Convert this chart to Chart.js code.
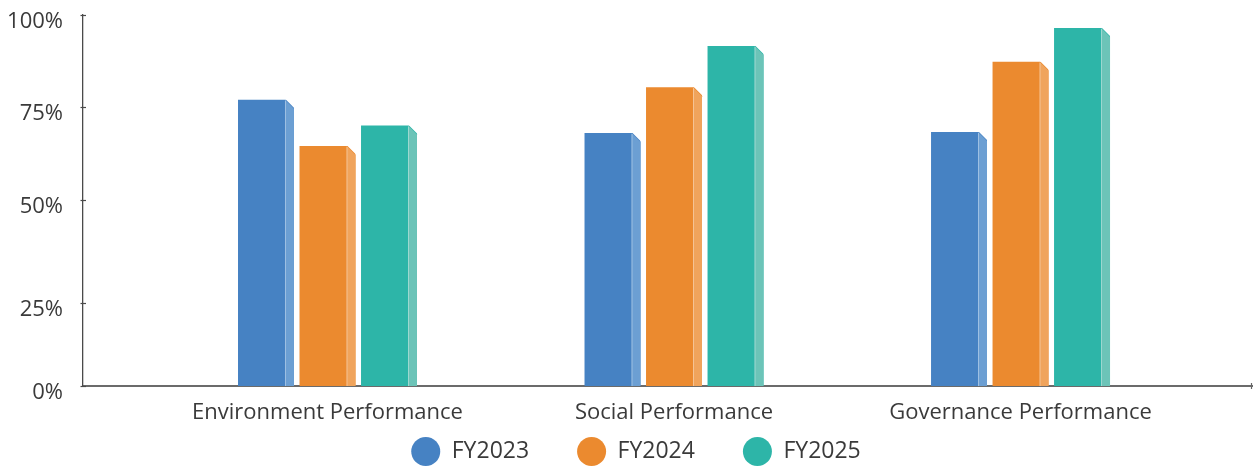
<!DOCTYPE html>
<html>
<head>
<meta charset="utf-8">
<title>ESG Performance</title>
<script src="https://cdn.jsdelivr.net/npm/chart.js@4"></script>
<style>
  html, body { margin: 0; padding: 0; background: #ffffff; }
  canvas { display: block; }
</style>
</head>
<body>
<canvas id="chart" width="1253" height="468"></canvas>
<script>
// ---- data ----
const categories = ['Environment Performance', 'Social Performance', 'Governance Performance'];
const seriesNames = ['FY2023', 'FY2024', 'FY2025'];
const fy2023 = [77, 68, 68.3];
const fy2024 = [64.5, 80.4, 87.3];
const fy2025 = [70, 91.6, 96.5];
const yTickValues = [0, 25, 50, 75, 100];
const yTickLabels = ['0%', '25%', '50%', '75%', '100%'];

// ---- styling ----
const FONT = 'Open Sans';
const FONT_SIZE = 22;
const LEGEND_FONT_SIZE = 23;
const TEXT = '#3a3a3a';
const frontColors = ['#4682C3', '#EB8A2F', '#2DB5A8'];
const sideColors = ['#6C9FD3', '#F0A45C', '#6CC4B8'];

// Linear scale whose tick spacing follows a list of [value, fraction] stops.
class StopScale extends Chart.LinearScale {
  static id = 'stops';
  static defaults = Chart.LinearScale.defaults;
  _toFraction(v) {
    const s = this.options.stops;
    if (v <= s[0][0]) return s[0][1];
    for (let i = 1; i < s.length; i++) {
      if (v <= s[i][0]) {
        const t = (v - s[i - 1][0]) / (s[i][0] - s[i - 1][0]);
        return s[i - 1][1] + t * (s[i][1] - s[i - 1][1]);
      }
    }
    return s[s.length - 1][1];
  }
  _fromFraction(f) {
    const s = this.options.stops;
    for (let i = 1; i < s.length; i++) {
      if (f <= s[i][1]) {
        const t = (f - s[i - 1][1]) / (s[i][1] - s[i - 1][1]);
        return s[i - 1][0] + t * (s[i][0] - s[i - 1][0]);
      }
    }
    return s[s.length - 1][0];
  }
  getPixelForValue(value) {
    if (value === null || value === undefined || isNaN(value)) return NaN;
    return this.getPixelForDecimal(this._toFraction(value));
  }
  getValueForPixel(pixel) {
    return this._fromFraction(this.getDecimalForPixel(pixel));
  }
}
Chart.register(StopScale);

// Lighter side face with a bevelled top, giving each bar some depth.
const barSides = {
  id: 'barSides',
  afterDatasetsDraw(chart, args, opts) {
    const ctx = chart.ctx;
    chart.data.datasets.forEach((ds, di) => {
      const meta = chart.getDatasetMeta(di);
      if (meta.hidden) return;
      meta.data.forEach(el => {
        const { x, y, base, width } = el.getProps(['x', 'y', 'base', 'width'], true);
        const right = x + width / 2;
        const depth = width * opts.ratio;
        const fx = right - depth;
        ctx.save();
        ctx.fillStyle = '#ffffff';
        ctx.beginPath();
        ctx.moveTo(fx, y - 1);
        ctx.lineTo(right + 1, y - 1);
        ctx.lineTo(right + 1, y + depth);
        ctx.closePath();
        ctx.fill();
        ctx.fillStyle = ds.sideColor;
        ctx.beginPath();
        ctx.moveTo(fx, y);
        ctx.lineTo(right, y + depth);
        ctx.lineTo(right, base);
        ctx.lineTo(fx, base);
        ctx.closePath();
        ctx.fill();
        ctx.strokeStyle = 'rgba(255,255,255,0.35)';
        ctx.lineWidth = 1;
        ctx.beginPath();
        ctx.moveTo(fx + 0.5, y + 1);
        ctx.lineTo(fx + 0.5, base);
        ctx.stroke();
        ctx.restore();
      });
    });
  }
};

// Short tick marks crossing the axis lines.
const axisTicks = {
  id: 'axisTicks',
  afterDraw(chart) {
    const ctx = chart.ctx;
    const ys = chart.scales.y;
    const xs = chart.scales.x;
    ctx.save();
    ctx.strokeStyle = '#4a4a4a';
    ctx.lineWidth = 1.2;
    ys.ticks.forEach((t, i) => {
      const py = Math.round(ys.getPixelForTick(i)) + 0.5;
      ctx.beginPath();
      ctx.moveTo(ys.right - 2.5, py);
      ctx.lineTo(ys.right + 3, py);
      ctx.stroke();
    });
    ctx.strokeStyle = '#666666';
    ctx.beginPath();
    ctx.moveTo(xs.right - 0.5, xs.top - 3);
    ctx.lineTo(xs.right - 0.5, xs.top + 3);
    ctx.stroke();
    ctx.restore();
  }
};

// Nudges the legend row sideways after layout.
const legendShift = {
  id: 'legendShift',
  afterLayout(chart, args, opts) {
    if (chart.legend) {
      chart.legend.left += opts.dx;
      chart.legend.right += opts.dx;
    }
  }
};

const series = [fy2023, fy2024, fy2025];

new Chart(document.getElementById('chart'), {
  type: 'bar',
  data: {
    datasets: series.map((vals, si) => ({
      label: seriesNames[si],
      data: vals.map((v, i) => ({ x: i, y: v })),
      backgroundColor: frontColors[si],
      sideColor: sideColors[si],
      borderWidth: 0,
      categoryPercentage: 0.5325,
      barPercentage: 0.91
    }))
  },
  options: {
    responsive: false,
    animation: false,
    devicePixelRatio: 1,
    layout: { padding: { top: 15, right: 1, bottom: -8, left: 0 } },
    scales: {
      x: {
        type: 'linear',
        offset: false,
        min: -0.7056,
        max: 2.668,
        afterBuildTicks: s => { s.ticks = categories.map((_, i) => ({ value: i })); },
        afterFit: s => { s.height = 3; s.paddingLeft = 0; s.paddingRight = 0; },
        grid: { display: false, drawTicks: false },
        border: { display: true, color: '#6b6b6b', width: 2 },
        ticks: {
          autoSkip: false,
          maxRotation: 0,
          mirror: true,
          padding: -40,
          color: TEXT,
          font: { family: FONT, size: FONT_SIZE },
          callback: v => categories[v]
        }
      },
      y: {
        type: 'stops',
        min: 0,
        max: 100,
        stops: [[0, 0], [25, 0.2237], [50, 0.5013], [75, 0.752], [100, 1]],
        afterBuildTicks: s => { s.ticks = yTickValues.map(v => ({ value: v })); },
        afterFit: s => { s.width = 83; s.paddingTop = 0; s.paddingBottom = 0; },
        grid: { display: false, drawTicks: false },
        border: { display: true, color: '#4a4a4a', width: 1.3 },
        ticks: {
          padding: 20,
          labelOffset: 7,
          color: TEXT,
          font: { family: FONT, size: FONT_SIZE },
          callback: v => yTickLabels[yTickValues.indexOf(v)]
        }
      }
    },
    plugins: {
      barSides: { ratio: 9 / 56 },
      legendShift: { dx: 10 },
      tooltip: { enabled: false },
      legend: {
        position: 'bottom',
        labels: {
          color: TEXT,
          font: { family: FONT, size: LEGEND_FONT_SIZE },
          boxWidth: 29,
          boxHeight: 29,
          useBorderRadius: true,
          borderRadius: 14.5,
          padding: 48
        }
      }
    }
  },
  plugins: [barSides, axisTicks, legendShift]
});
</script>
</body>
</html>
